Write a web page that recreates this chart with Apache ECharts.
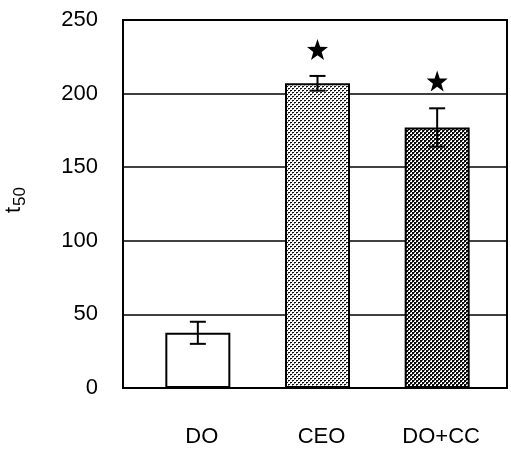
<!DOCTYPE html>
<html>
<head>
<meta charset="utf-8">
<script src="https://cdn.jsdelivr.net/npm/echarts@6/dist/echarts.min.js"></script>
<style>
  html, body { margin: 0; padding: 0; background: #fff; }
  #chart { width: 511px; height: 450px; }
</style>
</head>
<body>
<div id="chart"></div>
<script>
// Treatment groups and measured t50 values
const categories = ['DO', 'CEO', 'DO+CC'];
const meanValues = [37.5, 207, 177];
const errorValues = [7.5, 5, 13];
// Significance markers (y level of each star; null = no marker)
const starValues = [null, 230, 208.5];
const yTicks = [0, 50, 100, 150, 200, 250];

// Fill patterns for the bars: sparse stipple and dense checkerboard
function makePattern(kind) {
  const c = document.createElement('canvas');
  c.width = 4; c.height = 4;
  const g = c.getContext('2d');
  g.fillStyle = '#fff'; g.fillRect(0, 0, 4, 4);
  if (kind === 'light') {
    g.fillStyle = '#111';
    g.fillRect(0, 0, 2, 1);
    g.fillRect(2, 2, 2, 1);
    g.fillStyle = '#8a8a8a';
    g.fillRect(0, 1, 1, 1);
    g.fillRect(2, 3, 1, 1);
  } else {
    g.fillStyle = '#0a0a0a';
    g.fillRect(0, 0, 2, 2);
    g.fillRect(2, 2, 2, 2);
    g.fillStyle = '#555';
    g.fillRect(2, 0, 1, 1);
    g.fillRect(0, 2, 1, 1);
  }
  return { image: c, repeat: 'repeat' };
}
const fills = ['#ffffff', makePattern('light'), makePattern('dark')];

const chart = echarts.init(document.getElementById('chart'));
const fontFamily = 'Liberation Sans, Arial, sans-serif';
const yMin = yTicks[0], yMax = yTicks[yTicks.length - 1];

const starPath = 'path://M0,-10 L2.35,-3.24 L9.51,-3.09 L3.8,1.24 L5.88,8.09 L0,4 L-5.88,8.09 L-3.8,1.24 L-9.51,-3.09 L-2.35,-3.24 Z';

chart.setOption({
  animation: false,
  grid: [
    { left: 123, right: 4, top: 20, bottom: 62, outerBoundsMode: 'none', containLabel: false,
      show: true, borderColor: '#000', borderWidth: 2, backgroundColor: 'transparent' },
    { left: 138, right: 14, top: 20, bottom: 62, outerBoundsMode: 'none', containLabel: false }
  ],
  xAxis: [
    { gridIndex: 0, type: 'category', data: categories, show: false },
    {
      gridIndex: 1, type: 'category', data: categories,
      axisLine: { show: false }, axisTick: { show: false },
      axisLabel: { color: '#000', fontSize: 22, fontFamily: fontFamily, margin: 38, padding: [0, 0, 0, 8] }
    }
  ],
  yAxis: [
    {
      gridIndex: 0, type: 'value', min: yMin, max: yMax, interval: 50,
      axisLine: { show: true, lineStyle: { color: '#000', width: 2 } },
      axisTick: { show: false },
      axisLabel: { color: '#000', fontSize: 22, fontFamily: fontFamily, margin: 25 },
      splitLine: { show: true, lineStyle: { color: '#000', width: 1.5 } },
      name: '{t|t}{s|50}',
      nameLocation: 'middle',
      nameRotate: 90,
      nameGap: 94,
      nameTextStyle: {
        padding: [0, 0, 0, 8],
        rich: {
          t: { fontSize: 22, fontFamily: fontFamily, color: '#000' },
          s: { fontSize: 17, fontFamily: fontFamily, color: '#000', padding: [14, 0, 0, 1] }
        }
      }
    },
    { gridIndex: 1, type: 'value', min: yMin, max: yMax, show: false, splitLine: { show: false } }
  ],
  series: [
    {
      type: 'bar',
      xAxisIndex: 1, yAxisIndex: 1,
      barWidth: 65,
      data: meanValues.map((v, i) => ({
        value: v,
        itemStyle: { color: fills[i], borderColor: '#000', borderWidth: 2 }
      })),
      z: 2
    },
    {
      type: 'custom',
      xAxisIndex: 1, yAxisIndex: 1,
      data: meanValues.map((v, i) => [i, v - errorValues[i], v + errorValues[i]]),
      renderItem: function (params, api) {
        const lo = api.coord([api.value(0), api.value(1)]);
        const hi = api.coord([api.value(0), api.value(2)]);
        const half = 8;
        const style = { stroke: '#000', lineWidth: 2 };
        return {
          type: 'group',
          children: [
            { type: 'line', shape: { x1: hi[0], y1: hi[1], x2: lo[0], y2: lo[1] }, style: style },
            { type: 'line', shape: { x1: hi[0] - half, y1: hi[1], x2: hi[0] + half, y2: hi[1] }, style: style },
            { type: 'line', shape: { x1: lo[0] - half, y1: lo[1], x2: lo[0] + half, y2: lo[1] }, style: style }
          ]
        };
      },
      z: 3
    },
    {
      type: 'scatter',
      xAxisIndex: 1, yAxisIndex: 1,
      symbol: starPath,
      symbolSize: 21,
      itemStyle: { color: '#000', opacity: 1 },
      data: starValues.map((v, i) => v == null ? null : [i, v]).filter(d => d),
      z: 4
    }
  ]
});
</script>
</body>
</html>
